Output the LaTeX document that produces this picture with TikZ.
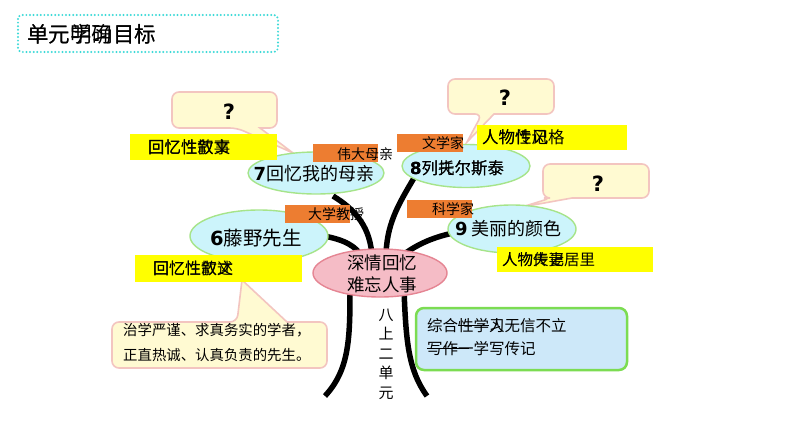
\documentclass[tikz,border=0pt]{standalone}
\usepackage{fontspec}
\setmainfont{Noto Sans CJK SC}
\newfontfamily\digfont{DejaVu Sans}
\usetikzlibrary{shapes.geometric}
\definecolor{callfill}{HTML}{FFFAD2}
\definecolor{callline}{HTML}{F3C5C0}
\definecolor{yel}{HTML}{FFFF00}
\definecolor{org}{HTML}{ED7D31}
\definecolor{ellfill}{HTML}{CCF4FB}
\definecolor{ellline}{HTML}{A6E48A}
\definecolor{cenfill}{HTML}{F5BCC6}
\definecolor{cenline}{HTML}{E58593}
\definecolor{gbfill}{HTML}{CDE8F9}
\definecolor{gbline}{HTML}{7CDC52}
\definecolor{titleline}{HTML}{3DDAD8}
\newcommand\fsz[1]{\fontsize{#1}{#1}\selectfont}
\begin{document}
\begin{tikzpicture}[x=1pt,y=-1pt,
  callout/.style={fill=callfill,draw=callline,line width=1.6pt},
  txt/.style={anchor=west,inner sep=0pt},
  bubble/.style={ellipse,fill=ellfill,draw=ellline,line width=1.4pt,inner sep=0pt},
  branch/.style={line width=5.5pt,draw=black},
  qmark/.style={inner sep=0pt,font=\digfont\bfseries\fsz{21}},
]
\useasboundingbox (0,0) rectangle (794,447);
\fill[white] (0,0) rectangle (794,447);

% title
\draw[titleline,line width=2.2pt,dash pattern=on 0pt off 3.6pt,line cap=round,rounded corners=4] (18,15) rectangle (278,52);
\node[txt,font=\fsz{21.5}] (title) at (27,34) {单元明确目标};
\node[txt,font=\fsz{21.5}] (title2) at (27,34) {单元学习目标};

% branches and trunk
\coordinate (a7) at (333,196);
\coordinate (a6) at (324,236);
\coordinate (a8) at (414,178);
\coordinate (a9) at (453,233);
\coordinate (cA) at (372,258);
\coordinate (cB) at (386,258);
\coordinate (cC) at (363,258);
\coordinate (cD) at (399,258);
\coordinate (tl) at (350,290);
\coordinate (tr) at (404,290);
\coordinate (bl) at (325,396);
\coordinate (br) at (427,396);
\draw[branch] (a7) .. controls (356,210) and (371,228) .. (cA);
\draw[branch] (a8) .. controls (398,205) and (386,225) .. (cB);
\draw[branch] (a6) .. controls (345,240) and (356,246) .. (cC);
\draw[branch] (cD) .. controls (414,246) and (430,238) .. (a9);
\draw[branch] (tl) .. controls (350,340) and (349,370) .. (bl);
\draw[branch] (tr) .. controls (406,340) and (408,370) .. (br);

% callouts
\draw[callout] (260,128) [rounded corners=7] -- (277,128) -- (277,92) -- (172,92) -- (172,128) -- (237,128) [sharp corners] -- (293,153) -- cycle;
\node[qmark] (q7) at (229,112) {?};
\draw[callout] (494,114) [rounded corners=7] -- (554,114) -- (554,79) -- (448,79) -- (448,114) -- (482,114) [sharp corners] -- (467,142) -- cycle;
\node[qmark] (q8) at (505,98) {?};
\draw[callout] (572,198) [rounded corners=7] -- (649,198) -- (649,164) -- (543,164) -- (543,198) -- (551,198) [sharp corners] -- (522,207) -- cycle;
\node[qmark] (q9) at (598,184) {?};
\draw[callout] (287,322) [rounded corners=7] -- (327,322) -- (327,368) -- (112,368) -- (112,322) -- (237,322) [sharp corners] -- (242,280) -- cycle;
\node[txt,font=\fsz{14.4}] (d1) at (123,330) {治学严谨、求真务实的学者，};
\node[txt,font=\fsz{14.4}] (d2) at (123,355) {正直热诚、认真负责的先生。};

% ellipses
\node[bubble,minimum width=136,minimum height=42] (e7) at (316,173) {};
\node[font=\fsz{18},inner sep=0pt] (t7) at (314,174) {{\digfont\bfseries 7}回忆我的母亲};
\node[bubble,minimum width=128,minimum height=43] (e8) at (466,166) {};
\node[txt,font=\fsz{16.5}] (t8) at (410,168) {{\digfont\bfseries 8}列夫尔斯泰};
\node[txt,font=\fsz{16.5}] (t8b) at (410,168) {{\digfont\bfseries 8}列托尔斯泰};
\node[bubble,minimum width=128,minimum height=48] (e9) at (512,229) {};
\node[txt,font=\fsz{18}] (t9) at (455,229) {{\digfont\bfseries 9} 美丽的颜色};
\node[bubble,minimum width=138,minimum height=52] (e6) at (259,236) {};
\node[txt,font=\fsz{19.5}] (t6) at (210,238) {{\digfont\bfseries 6}藤野先生};
\node[ellipse,fill=cenfill,draw=cenline,line width=1.4pt,minimum width=134,minimum height=48,inner sep=0pt] (c) at (380,273) {};
\node[align=center,font=\fontsize{17.5}{22}\selectfont,inner sep=0pt] (ct) at (382,274) {深情回忆\\难忘人事};

% orange labels
\fill[org] (313,144) rectangle (378,162);
\node[txt,font=\fsz{14}] (o7) at (337,154) {伟大母亲};
\fill[org] (397,134) rectangle (463,152);
\node[txt,font=\fsz{14}] (o8) at (422,143) {文学家};
\fill[org] (285,205) rectangle (350,223);
\node[txt,font=\fsz{14}] (o6) at (308,214) {大学教授};
\fill[org] (407,200) rectangle (472,218);
\node[txt,font=\fsz{14}] (o9) at (432,209) {科学家};

% yellow labels
\fill[yel] (130,134) rectangle (277,160);
\node[txt,font=\fsz{16.4}] (y7) at (148,147) {回忆性散文};
\node[txt,font=\fsz{16.4}] (y7b) at (148,147) {回忆性叙事};
\fill[yel] (135,255) rectangle (302,282);
\node[txt,font=\fsz{16}] (y6) at (153,268) {回忆性散文};
\node[txt,font=\fsz{16}] (y6b) at (153,268) {回忆性叙述};
\fill[yel] (477,125) rectangle (627,150);
\node[txt,font=\fsz{16.5}] (y8) at (482,137) {人物传记};
\node[txt,font=\fsz{16.5}] (y8b) at (482,137) {人物性风格};
\fill[yel] (497,247) rectangle (653,272);
\node[txt,font=\fsz{15.5}] (y9) at (502,260) {人物传记};
\node[txt,font=\fsz{15.5}] (y9b) at (502,260) {人物夫妻居里};

% vertical text
\node[align=center,font=\fontsize{15}{19.5}\selectfont,inner sep=0pt] (vt) at (386,354) {八\\上\\二\\单\\元};

% green box
\draw[fill=gbfill,draw=gbline,line width=2.5pt,rounded corners=8] (416,308) rectangle (627,370);
\node[txt,font=\fsz{15.5}] (g1) at (427,326) {综合性学习};
\node[txt,font=\fsz{15.5}] (g1b) at (489,326) {人无信不立};
\node[txt,font=\fsz{15.5}] (g2) at (427,348.5) {写作一学写传记};
\draw[line width=1.3pt] (458,325.5) -- (489,325.5);
\draw[line width=1.3pt] (427,348.5) -- (469,348.5);
\end{tikzpicture}
\end{document}
